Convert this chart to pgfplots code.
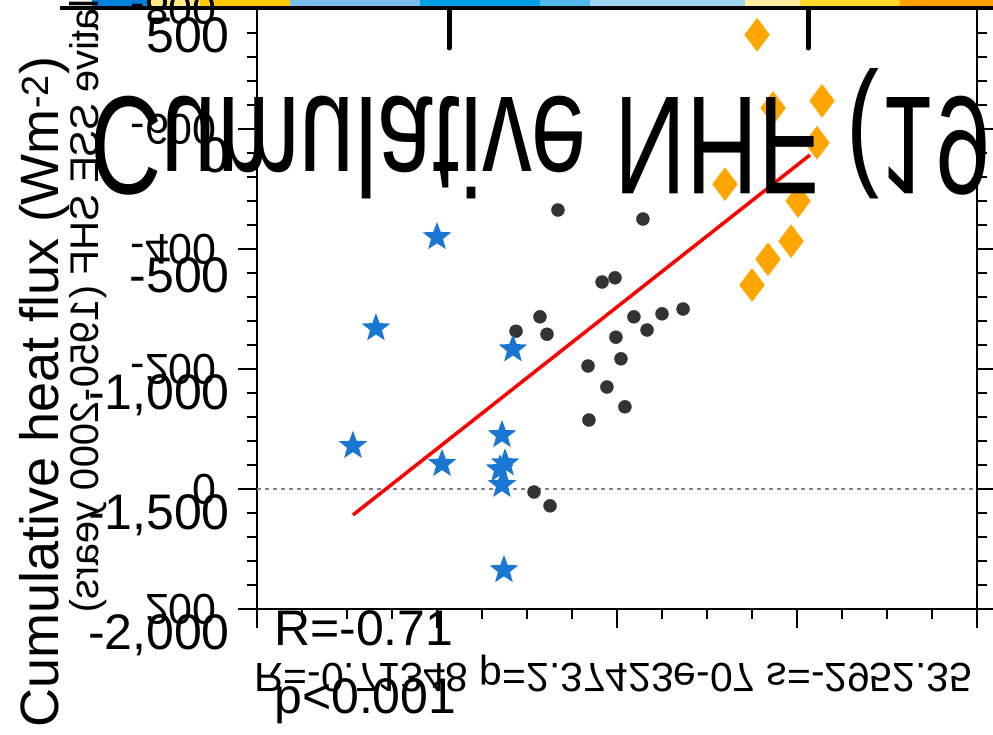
\documentclass[border=0pt]{standalone}
\usepackage{pgfplots}
\pgfplotsset{compat=1.18}
\usepackage{fontspec}
\setmainfont{Liberation Sans}
\usetikzlibrary{plotmarks}

\definecolor{dotgray}{HTML}{333333}
\definecolor{starblue}{HTML}{1976D2}
\definecolor{diaorange}{HTML}{FFA500}
\definecolor{fitred}{HTML}{FF0000}

% filled five-pointed star
\pgfdeclareplotmark{fstar}{%
  \pgfpathmoveto{\pgfpointpolar{90}{\pgfplotmarksize}}%
  \pgfpathlineto{\pgfpointpolar{126}{0.42\pgfplotmarksize}}%
  \pgfpathlineto{\pgfpointpolar{162}{\pgfplotmarksize}}%
  \pgfpathlineto{\pgfpointpolar{198}{0.42\pgfplotmarksize}}%
  \pgfpathlineto{\pgfpointpolar{234}{\pgfplotmarksize}}%
  \pgfpathlineto{\pgfpointpolar{270}{0.42\pgfplotmarksize}}%
  \pgfpathlineto{\pgfpointpolar{306}{\pgfplotmarksize}}%
  \pgfpathlineto{\pgfpointpolar{342}{0.42\pgfplotmarksize}}%
  \pgfpathlineto{\pgfpointpolar{18}{\pgfplotmarksize}}%
  \pgfpathlineto{\pgfpointpolar{54}{0.42\pgfplotmarksize}}%
  \pgfpathclose
  \pgfusepathqfill
}

% cumulative fluxes per group (x, y)
\pgfplotstableread{
x y
1.672 -465
2.144 -450
1.917 -345
1.989 -352
1.572 -287
1.439 -263
1.611 -258
2.094 -287
2.250 -292
2.367 -300
2.167 -265
1.994 -253
1.839 -205
2.022 -217
1.944 -170
2.044 -137
1.844 -115
1.539 5
1.628 28
}\groupmid
\pgfplotstableread{
x y
2.778 -757
2.867 -635
3.139 -647
3.111 -577
2.600 -508
3.006 -480
2.967 -413
2.839 -383
2.750 -340
}\grouphigh
\pgfplotstableread{
x y
1.000 -420
0.661 -268
1.422 -233
0.533 -72
1.028 -42
1.361 -90
1.378 -43
1.350 -33
1.361 -7
1.372 135
}\grouplow

\newcommand{\flipnum}[1]{\fontsize{43}{43}\selectfont\scalebox{1}[-1]{\pgfmathprintnumber{#1}}}

\begin{document}
\begin{tikzpicture}[x=1pt,y=-1pt]
\useasboundingbox (0,0) rectangle (993,735);
\clip (0,0) rectangle (993,735);

% colour strip along the top edge
\fill[fill={rgb,255:red,0;green,130;blue,220}] (92,0) rectangle (150,7);
\fill[fill={rgb,255:red,255;green,235;blue,130}] (150,0) rectangle (200,7);
\fill[fill={rgb,255:red,255;green,200;blue,0}] (200,0) rectangle (290,7);
\fill[fill={rgb,255:red,120;green,190;blue,235}] (290,0) rectangle (420,7);
\fill[fill={rgb,255:red,0;green,160;blue,230}] (420,0) rectangle (540,7);
\fill[fill={rgb,255:red,80;green,185;blue,235}] (540,0) rectangle (590,7);
\fill[fill={rgb,255:red,160;green,215;blue,240}] (590,0) rectangle (745,7);
\fill[fill={rgb,255:red,255;green,240;blue,160}] (745,0) rectangle (800,7);
\fill[fill={rgb,255:red,255;green,215;blue,40}] (800,0) rectangle (900,7);
\fill[fill={rgb,255:red,255;green,160;blue,0}] (900,0) rectangle (993,7);

% scatter panel
\begin{axis}[
  at={(257pt,-609pt)}, anchor=south west,
  scale only axis, width=720pt, height=600pt,
  xmin=0, xmax=4, ymin=-800, ymax=200, y dir=reverse,
  axis line style={line width=1.5pt},
  tick style={line width=1.5pt, black},
  tick align=outside,
  major tick length=19pt, minor tick length=10pt,
  xtick={0,1,2,3,4}, minor x tick num=3, xticklabels={},
  xtick pos=bottom,
  ytick={-800,-600,...,200}, minor y tick num=4,
  ytick pos=both, yticklabel pos=left,
  yticklabel={\flipnum{\tick}},
  yticklabel style={anchor=east, inner sep=0pt, xshift=-21pt},
  /pgf/number format/assume math mode=true,
  clip=false,
]
\addplot[gray, line width=1.2pt, dash pattern=on 4pt off 4pt, forget plot] coordinates {(0,0) (4,0)};
\addplot[only marks, mark=*, mark size=6.5pt, dotgray, mark options={draw=none, fill=dotgray}] table {\groupmid};
\addplot[only marks, mark=fstar, mark size=15pt, starblue, mark options={fill=starblue}] table {\grouplow};
\addplot[only marks, mark=diamond*, mark size=16.5pt, diaorange, mark options={draw=none, fill=diaorange}] table {\grouphigh};
\addplot[fitred, line width=3.5pt] coordinates {(0.533,43.3) (3.072,-556.7)};
\end{axis}

% left scale of the overlaid panel
\begin{axis}[
  at={(257pt,-635pt)}, anchor=south west,
  scale only axis, width=720pt, height=600pt,
  xmin=0, xmax=1, ymin=-2000, ymax=500,
  hide x axis, axis y line*=left, y axis line style={draw=none},
  major tick length=0pt, scaled y ticks=false,
  ytick={-2000,-1500,...,500},
  yticklabel style={font=\fontsize{50}{50}\selectfont, anchor=east, inner sep=0pt, xshift=-27pt},
  /pgf/number format/1000 sep={,},
  /pgf/number format/assume math mode=true,
]
\addplot[draw=none, forget plot] coordinates {(0,0)};
\end{axis}

% frame pieces of the upper panel
\draw[line width=4pt] (60,8.5) -- (993,8.5);
\draw[line width=5pt, line cap=round] (449,9) -- (449,48);
\draw[line width=5pt, line cap=round] (808,9) -- (808,48);

% axis titles
\node[rotate=90, anchor=base, inner sep=0pt, font=\fontsize{54}{54}\selectfont] at (58,392) {Cumulative heat flux (Wm\textsuperscript{-2})};
\node[rotate=-90, yscale=-1, anchor=base east, inner sep=0pt, font=\fontsize{40}{40}\selectfont] at (98,613) {Cumulative SSE SHF (1950-2000 years)};

% statistics
\node[anchor=base west, yscale=-1, inner sep=0pt, font=\fontsize{40.8}{40.8}\selectfont] at (254,663) {R=-0.71348 p=2.37423e-07 s=-2952.35};
\node[anchor=base west, inner sep=0pt, font=\fontsize{50}{50}\selectfont] at (274,645) {R=-0.71};
\node[anchor=base west, inner sep=0pt, font=\fontsize{50}{50}\selectfont] at (274,713) {p<0.001};

% panel title
\node[anchor=base west, xscale=0.71, yscale=-1, inner sep=0pt, font=\fontsize{140}{140}\selectfont] at (90,98) {Cumulative NHF (1960s-1990s)};
\end{tikzpicture}
\end{document}
